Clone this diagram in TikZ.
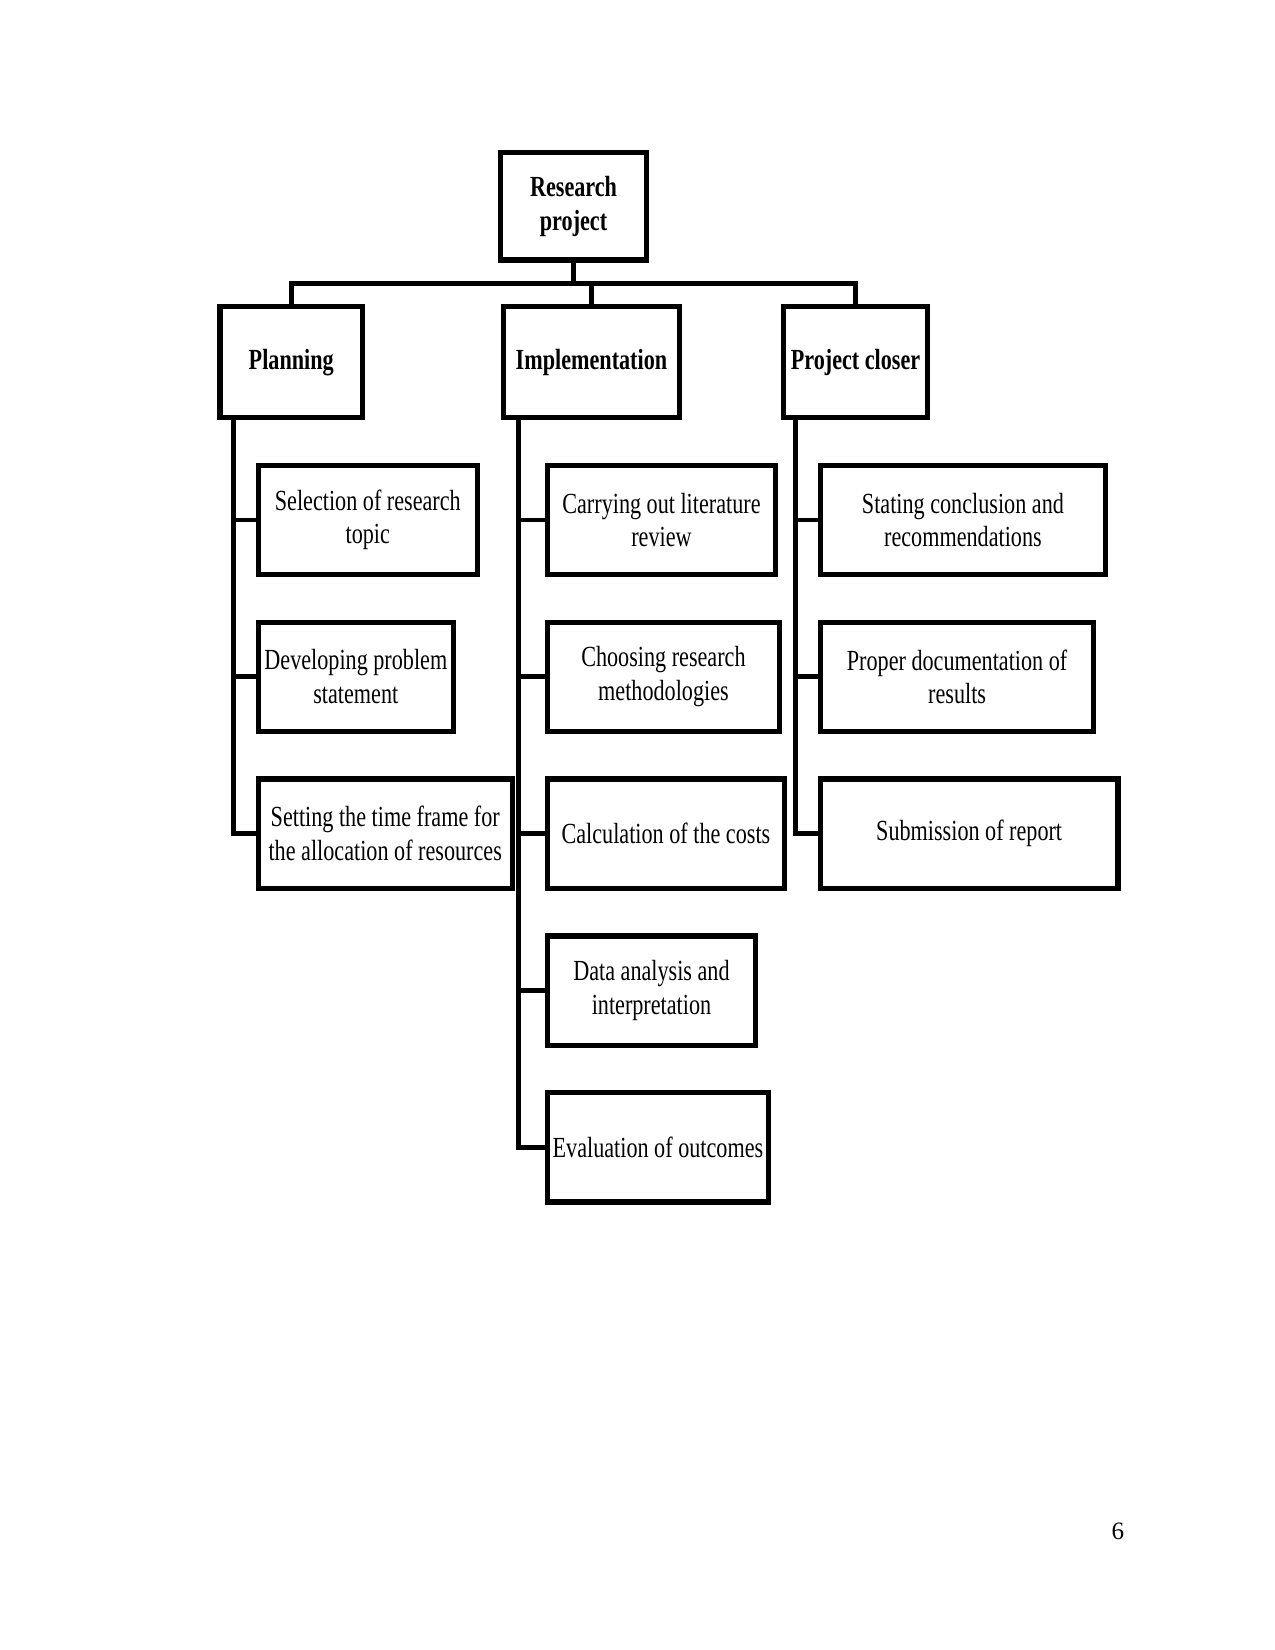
\documentclass[tikz,border=0pt]{standalone}
\usepackage{fontspec}
\setmainfont{Liberation Serif}
\newfontfamily\narrowfont[FakeStretch=0.76]{Liberation Serif}
\usetikzlibrary{calc, positioning}

\begin{document}
\begin{tikzpicture}[
  node distance=20.4pt,
  box/.style={draw, line width=2.5pt, align=center, inner sep=0pt,
    minimum height=52.4pt, font=\narrowfont\fontsize{14}{16.2}\selectfont},
  head/.style={box, minimum height=53.2pt,
    font=\narrowfont\bfseries\fontsize{14}{16.2}\selectfont},
  link/.style={line width=2.3pt, line join=miter}
]
\useasboundingbox (0,0) rectangle (612pt,-792pt);

% top levels
\node[head, minimum width=70pt, minimum height=51.5pt, anchor=north] (proj) at (275.3pt,-72pt) {Research\\project};
\node[head, minimum width=84.2pt, below=20pt of proj, xshift=8.6pt] (impl) {Implementation};
\node[head, minimum width=68.4pt, left=65.3pt of impl] (plan) {Planning};
\node[head, minimum width=69.3pt, right=47.5pt of impl] (clos) {Project closer};

% planning
\node[box, minimum width=105.3pt, below=of plan.south west, anchor=north west, xshift=18.3pt] (sel) {Selection of research\\topic};
\node[box, minimum width=93.8pt, below=of sel.south west, anchor=north west] (dev) {Developing problem\\statement};
\node[box, minimum width=122pt, below=of dev.south west, anchor=north west] (tfr) {Setting the time frame for\\the allocation of resources};

% implementation
\node[box, minimum width=109.2pt, below=of impl.south west, anchor=north west, xshift=21.1pt] (lit) {Carrying out literature\\review};
\node[box, minimum width=111.1pt, below=of lit.south west, anchor=north west] (meth) {Choosing research\\methodologies};
\node[box, minimum width=113.5pt, below=of meth.south west, anchor=north west] (cost) {Calculation of the costs};
\node[box, minimum width=99.6pt, below=of cost.south west, anchor=north west] (data) {Data analysis and\\interpretation};
\node[box, minimum width=105.8pt, below=of data.south west, anchor=north west] (eval) {Evaluation of outcomes};

% project closer
\node[box, minimum width=136.8pt, below=of clos.south west, anchor=north west, xshift=17.8pt] (concl) {Stating conclusion and\\recommendations};
\node[box, minimum width=131.2pt, below=of concl.south west, anchor=north west] (doc) {Proper documentation of\\results};
\node[box, minimum width=142.8pt, below=of doc.south west, anchor=north west] (subm) {Submission of report};

% bus
\coordinate (bus) at ($(proj.south)!0.5!(impl.north)$);
\draw[link] (proj.south) -- (proj.south |- bus);
\draw[link] (plan.north) -- (plan.north |- bus) -- (clos.north |- bus) -- (clos.north);
\draw[link] (impl.north) -- (impl.north |- bus);

% trunks
\coordinate (plantr) at ($(plan.south west)+(7.7pt,0)$);
\coordinate (impltr) at ($(impl.south west)+(8.2pt,0)$);
\coordinate (clostr) at ($(clos.south west)+(7.2pt,0)$);
\draw[link] (plantr) |- (tfr.west);
\draw[link] (impltr) |- (eval.west);
\draw[link] (clostr) |- (subm.west);
\foreach \n in {sel,dev} \draw[link] (plantr |- \n.west) -- (\n.west);
\foreach \n in {lit,meth,cost,data} \draw[link] (impltr |- \n.west) -- (\n.west);
\foreach \n in {concl,doc} \draw[link] (clostr |- \n.west) -- (\n.west);

\node[font=\fontsize{12}{14}\selectfont] (pgnum) at (536.6pt,-735pt) {6};
\end{tikzpicture}
\end{document}
